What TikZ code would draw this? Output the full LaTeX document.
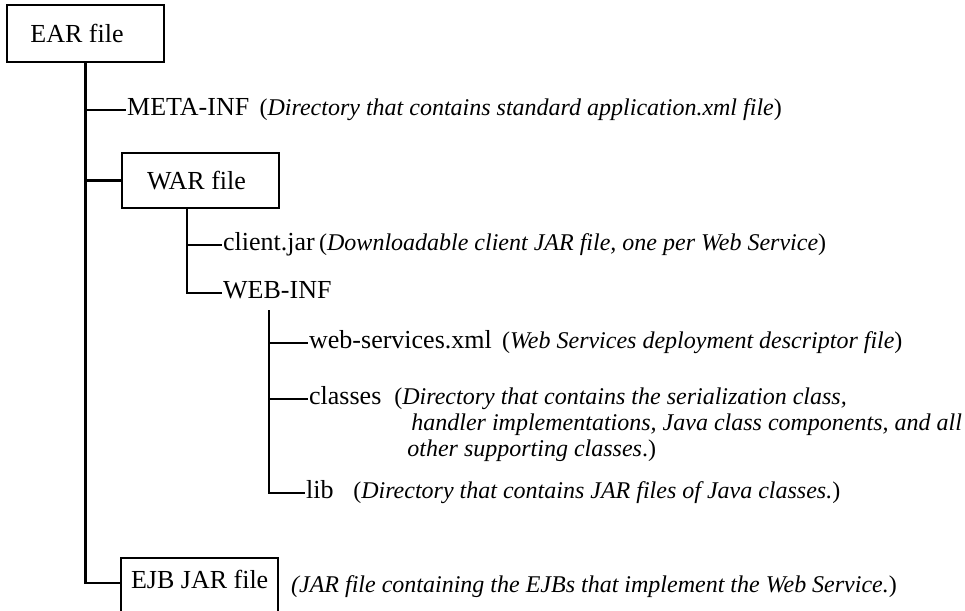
\documentclass[tikz,border=0pt]{standalone}
\usepackage{fontspec}
\setmainfont{Liberation Serif}
\usetikzlibrary{positioning}
\begin{document}
\begin{tikzpicture}[x=0.75pt,y=-0.75pt,line width=1.75pt]
  \tikzset{
    filebox/.style={draw,inner sep=0pt,minimum width=117.75pt,font=\fontsize{19.5}{23}\selectfont},
    entry/.style={inner sep=0pt,text height=12pt,text depth=4pt,font=\fontsize{19.5}{23}\selectfont},
    note/.style={inner sep=0pt,font=\fontsize{18}{19.5}\selectfont},}
  \useasboundingbox (0,0) rectangle (965,611);
  % archives
  \node[filebox,minimum height=42.75pt] (ear) at (85.5,33.5) {EAR file\hspace*{12.75pt}};
  \node[filebox,minimum height=41.25pt] (war) at (200.5,180.5) {WAR file\hspace*{6pt}};
  \node[filebox,anchor=north west,text height=22.5pt,text depth=28.5pt] (ejb) at (120,557) {EJB JAR file};
  % entries
  \node[entry,anchor=west] (meta) at (126,110) {META-INF};
  \node[entry,anchor=west] (client) at (222,245) {client.jar};
  \node[entry,anchor=west] (webinf) at (222,293) {WEB-INF};
  \node[entry,anchor=west] (websvc) at (308,343) {web-services.xml};
  \node[entry,anchor=west] (classes) at (308,399) {classes};
  \node[entry,anchor=west] (lib) at (305,493) {lib};
  \coordinate (warbus) at (187,208);
  \coordinate (webbus) at (269,310);
  % notes
  \node[note,base right=6pt of meta] (metanote) {(\textit{Directory that contains standard application.xml file})};
  \node[note,base right=1.5pt of client] (clientnote) {(\textit{Downloadable client JAR file, one per Web Service})};
  \node[note,base right=6pt of websvc] (websvcnote) {(\textit{Web Services deployment descriptor file})};
  \node[note,anchor=north west,align=left] (classesnote) at ([xshift=8pt]classes.north east) {(\textit{Directory that contains the serialization class,}\\
    \hspace*{12.75pt}\textit{handler implementations, Java class components, and all}\\
    \hspace*{9.75pt}\textit{other supporting classes}.)};
  \node[note,base right=13pt of lib] (libnote) {(\textit{Directory that contains JAR files of Java classes.})};
  \node[note,anchor=base west] (ejbnote) at (290,592) {\textit{(JAR file containing the EJBs that implement the Web Service.})};
  % tree
  \draw (ear.south) |- ([yshift=6.75pt]ejb.west);
  \draw (ear.south |- meta.west) -- (meta.west);
  \draw (ear.south |- war.west) -- (war.west);
  \draw (warbus) |- (webinf.west);
  \draw (warbus |- client.west) -- (client.west);
  \draw (webbus) |- (lib.west);
  \draw (webbus |- websvc.west) -- (websvc.west);
  \draw (webbus |- classes.west) -- (classes.west);
\end{tikzpicture}
\end{document}
